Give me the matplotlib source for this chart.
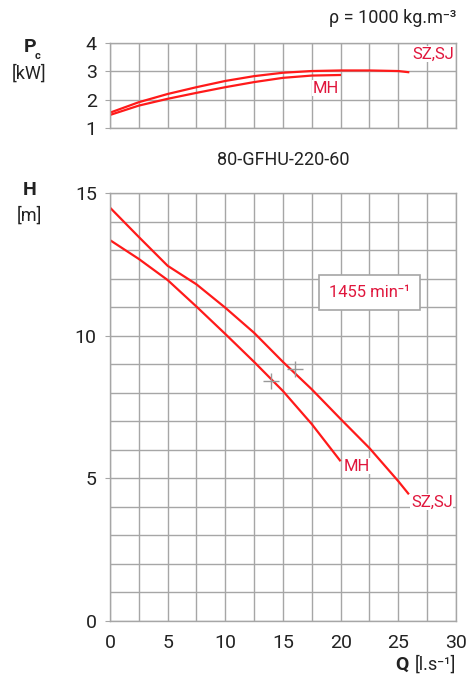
import matplotlib.pyplot as plt
from matplotlib.ticker import MultipleLocator

plt.rcParams['font.family'] = ['Roboto', 'DejaVu Sans']

# Head curves H [m] vs Q [l/s]
q_sz = [0, 2.5, 5, 7.5, 10, 12.5, 15, 17.5, 20, 22.5, 25, 25.86]
h_sz = [14.49, 13.46, 12.45, 11.8, 10.98, 10.1, 9.08, 8.12, 7.08, 6.06, 4.9, 4.47]
q_mh = [0, 2.5, 5, 7.5, 10, 12.5, 15, 17.5, 19.94]
h_mh = [13.35, 12.69, 11.95, 11.02, 10.06, 9.08, 8.06, 6.9, 5.63]

# Power curves Pc [kW]
qp_sz = [0, 2.5, 5, 7.5, 10, 12.5, 15, 17.5, 20, 22.5, 25, 25.86]
p_sz = [1.54, 1.91, 2.2, 2.44, 2.66, 2.83, 2.95, 3.01, 3.03, 3.03, 3.01, 2.97]
qp_mh = [0, 2.5, 5, 7.5, 10, 12.5, 15, 17.5, 19.94]
p_mh = [1.46, 1.79, 2.03, 2.24, 2.44, 2.62, 2.77, 2.85, 2.87]

# best efficiency points
bep_q = [14, 16]
bep_h = [8.41, 8.82]

red = '#ff1a1a'
lab_red = '#e0163c'
grid_c = '#a6a6a6'
txt = '#222222'

fig = plt.figure(figsize=(4.69, 6.79), dpi=100)
ax_p = fig.add_axes([0.2345, 0.8115, 0.7377, 0.1252])
ax_h = fig.add_axes([0.2345, 0.0854, 0.7377, 0.6303])

for ax in (ax_p, ax_h):
    ax.set_xlim(0, 30)
    ax.xaxis.set_major_locator(MultipleLocator(5))
    ax.xaxis.set_minor_locator(MultipleLocator(2.5))
    ax.grid(True, which='both', color=grid_c, lw=1)
    ax.set_axisbelow(True)
    for s in ax.spines.values():
        s.set_color(grid_c)
        s.set_linewidth(1)
    ax.tick_params(which='both', colors=grid_c, labelcolor=txt, labelsize=14, length=0)
    ax.tick_params(axis='y', which='major', length=3.5, pad=6)

# power panel
ax_p.set_ylim(1, 4)
ax_p.yaxis.set_major_locator(MultipleLocator(1))
ax_p.tick_params(axis='x', labelbottom=False)
ax_p.plot(qp_sz, p_sz, color=red, lw=1.6)
ax_p.plot(qp_mh, p_mh, color=red, lw=1.6)
ax_p.text(26.2, 3.61, 'SZ,SJ', color=lab_red, fontsize=12, va='center', ha='left',
          bbox=dict(fc='white', ec='none', pad=0.5))
ax_p.text(17.6, 2.4, 'MH', color=lab_red, fontsize=12, va='center', ha='left',
          bbox=dict(fc='white', ec='none', pad=0.5))

# head panel
ax_h.set_ylim(0, 15)
ax_h.yaxis.set_major_locator(MultipleLocator(5))
ax_h.yaxis.set_minor_locator(MultipleLocator(1))
ax_h.tick_params(axis='x', pad=9)
ax_h.plot(q_sz, h_sz, color=red, lw=1.6)
ax_h.plot(q_mh, h_mh, color=red, lw=1.6)
ax_h.plot(bep_q, bep_h, ls='none', marker='+', ms=12, mew=1, color='#999999')
ax_h.text(20.3, 5.43, 'MH', color=lab_red, fontsize=12, va='center', ha='left',
          bbox=dict(fc='white', ec='none', pad=0.5))
ax_h.text(26.1, 4.17, 'SZ,SJ', color=lab_red, fontsize=12, va='center', ha='left',
          bbox=dict(fc='white', ec='none', pad=0.5))
ax_h.text(22.5, 11.5, '1455 min⁻¹', color=lab_red, fontsize=12, ha='center', va='center',
          bbox=dict(boxstyle='square,pad=0.6', fc='white', ec=grid_c, lw=1.2))

# titles and axis labels
fig.text(0.603, 0.764, '80-GFHU-220-60', fontsize=13, color=txt, ha='center', va='center')
fig.text(0.9723, 0.9735, 'ρ = 1000 kg.m⁻³', fontsize=13, color=txt, ha='right', va='center')

fig.text(0.064, 0.931, 'P', fontsize=14, fontweight='bold', color=txt, ha='center', va='center')
fig.text(0.081, 0.917, 'c', fontsize=8, fontweight='bold', color=txt, ha='center', va='center')
fig.text(0.062, 0.892, '[kW]', fontsize=13, color=txt, ha='center', va='center')
fig.text(0.064, 0.72, 'H', fontsize=14, fontweight='bold', color=txt, ha='center', va='center')
fig.text(0.062, 0.682, '[m]', fontsize=13, color=txt, ha='center', va='center')

t = fig.text(0.9723, 0.0206, '[l.s⁻¹]', fontsize=13, color=txt, ha='right', va='center')
ax_h.annotate('Q', xy=(0, 0.5), xycoords=t, xytext=(-4, 0), textcoords='offset points',
              fontsize=14, fontweight='bold', color=txt, ha='right', va='center',
              annotation_clip=False)

fig.savefig('out.png', dpi=100)
